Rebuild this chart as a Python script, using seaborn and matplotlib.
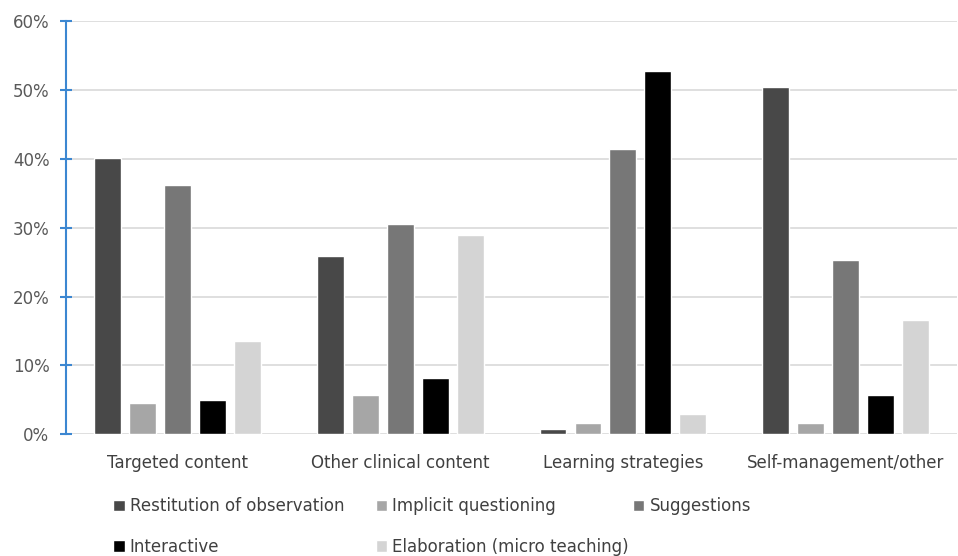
import pandas as pd
import matplotlib
matplotlib.use("Agg")
import matplotlib.pyplot as plt
import seaborn as sns
from matplotlib.ticker import PercentFormatter

# ---------------------------------------------------------------- data
categories = ["Targeted content", "Other clinical content",
              "Learning strategies", "Self-management/other"]
series = ["Restitution of observation", "Implicit questioning",
          "Suggestions", "Interactive", "Elaboration (micro teaching)"]
restitution = [40.1, 25.9, 0.8, 50.5]
implicit = [4.6, 5.7, 1.6, 1.6]
suggestions = [36.2, 30.6, 41.5, 25.3]
interactive = [4.9, 8.2, 52.8, 5.7]
elaboration = [13.6, 29.0, 2.9, 16.6]
y_ticks = [0, 10, 20, 30, 40, 50, 60]

colors = ["#484848", "#a6a6a6", "#777777", "#000000", "#d4d4d4"]

rows = []
for name, vals in zip(series, [restitution, implicit, suggestions,
                               interactive, elaboration]):
    for cat, v in zip(categories, vals):
        rows.append({"category": cat, "series": name, "value": v})
df = pd.DataFrame(rows)

sns.set_theme(style="white")
plt.rcParams["font.family"] = ["Liberation Sans Narrow", "DejaVu Sans"]

fig = plt.figure(figsize=(9.58, 5.56), dpi=100)
ax = fig.add_axes([0.069, 0.219, 0.93, 0.743])

sns.barplot(data=df, x="category", y="value", hue="series",
            hue_order=series, order=categories, palette=colors,
            width=0.785, gap=0.23, saturation=1, ax=ax, legend=True)

ax.set_ylim(0, 60)
ax.set_xlim(-0.5, 3.5)
ax.set_yticks(y_ticks)
ax.yaxis.set_major_formatter(PercentFormatter(decimals=0))
ax.grid(axis="y", color="#d9d9d9", lw=1.2)
ax.set_axisbelow(True)
ax.set_xlabel("")
ax.set_ylabel("")

for s in ["top", "right", "bottom"]:
    ax.spines[s].set_visible(False)
ax.spines["left"].set_color("#3c87d1")
ax.spines["left"].set_linewidth(1.5)
ax.tick_params(axis="y", left=True, direction="inout", length=8,
               width=1.5, color="#3c87d1", labelsize=12,
               labelcolor="#595959", pad=8)
ax.tick_params(axis="x", bottom=False, labelsize=12,
               labelcolor="#404040", pad=8)

# legend: first two columns in one legend, "Suggestions" on its own
handles, labels = ax.get_legend_handles_labels()
ax.get_legend().remove()
common = dict(loc="upper left", frameon=False, fontsize=12,
              labelcolor="#404040", handlelength=0.7, handleheight=0.7,
              handletextpad=0.3, labelspacing=1.35, borderpad=0,
              borderaxespad=0)
order = [0, 3, 1, 4]
leg1 = ax.legend([handles[i] for i in order], [labels[i] for i in order],
                 ncol=2, bbox_to_anchor=(0.0525, -0.153),
                 columnspacing=1.9, **common)
ax.add_artist(leg1)
ax.legend([handles[2]], [labels[2]], bbox_to_anchor=(0.636, -0.153),
          **common)

fig.savefig("out.png", dpi=100)
